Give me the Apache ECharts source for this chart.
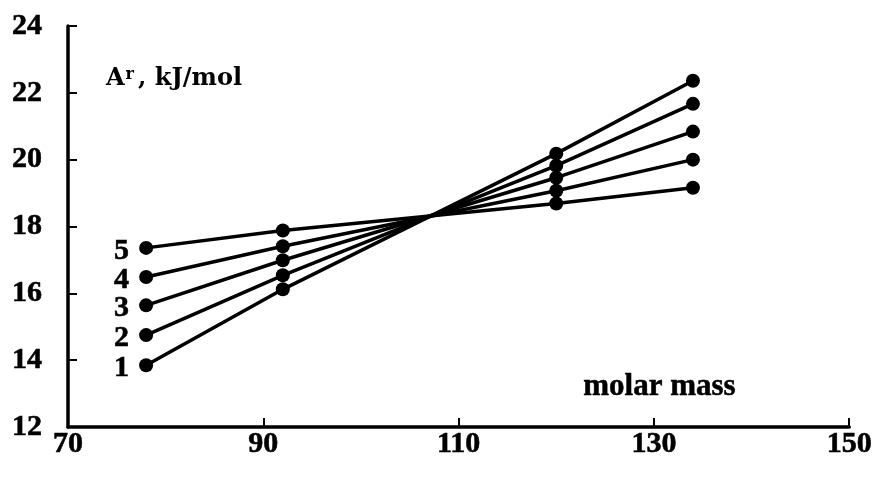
<!DOCTYPE html>
<html>
<head>
<meta charset="utf-8">
<script src="https://cdn.jsdelivr.net/npm/echarts@6/dist/echarts.min.js"></script>
<style>html,body{margin:0;padding:0;background:#fff}#c{width:875px;height:478px}</style>
</head>
<body>
<div id="c"></div>
<script>
const molarMass = [78, 92, 120, 134];
const seriesNames = ['1', '2', '3', '4', '5'];
const s1 = [13.85, 16.12, 20.18, 22.36];
const s2 = [14.75, 16.54, 19.82, 21.67];
const s3 = [15.64, 16.99, 19.46, 20.84];
const s4 = [16.49, 17.41, 19.07, 20.00];
const s5 = [17.36, 17.88, 18.69, 19.16];
const allSeries = [s1, s2, s3, s4, s5];

const serif = '"Liberation Serif", "Times New Roman", serif';
const slab = '"DejaVu Serif", serif';
const heavy = { textBorderColor: '#000', textBorderWidth: 0.6 };
const chart = echarts.init(document.getElementById('c'));
chart.setOption({
  animation: false,
  grid: { left: 68, right: 25, top: 26, bottom: 51 },
  xAxis: {
    type: 'value', min: 70, max: 150, interval: 20,
    axisLine: { lineStyle: { color: '#000', width: 3.5 } },
    axisTick: { inside: true, length: 9, lineStyle: { color: '#000', width: 2 } },
    splitLine: { show: false },
    axisLabel: Object.assign({ color: '#000', fontFamily: serif, fontWeight: 'bold', fontSize: 30, margin: 2 }, heavy)
  },
  yAxis: {
    type: 'value', min: 12, max: 24, interval: 2,
    axisLine: { show: true, lineStyle: { color: '#000', width: 3.5 } },
    axisTick: { show: true, inside: true, length: 9, lineStyle: { color: '#000', width: 2 } },
    splitLine: { show: false },
    axisLabel: Object.assign({ color: '#000', fontFamily: serif, fontWeight: 'bold', fontSize: 30, margin: 26 }, heavy)
  },
  graphic: [
    { type: 'text', left: 106, top: 67, style: {
      rich: {
        a: { fontFamily: slab, fontWeight: 'bold', fontSize: 24, fill: '#000' },
        s: { fontFamily: slab, fontWeight: 'bold', fontSize: 16, fill: '#000', verticalAlign: 'top', padding: [0, 4, 8, 1] }
      },
      text: '{a|A}{s|r}{a|, kJ/mol}'
    } },
    { type: 'text', left: 583, top: 371, style: { text: 'molar mass', fontFamily: serif, fontWeight: 'bold', fontSize: 31, fill: '#000', stroke: '#000', lineWidth: 0.5 } }
  ],
  series: allSeries.map((vals, i) => ({
    type: 'line',
    name: seriesNames[i],
    symbol: 'circle',
    symbolSize: 14,
    lineStyle: { color: '#000', width: 3.5 },
    itemStyle: { color: '#000' },
    data: vals.map((v, j) => j === 0 ? {
      value: [molarMass[j], v],
      label: Object.assign({ show: true, position: 'left', distance: 10, formatter: seriesNames[i],
        fontFamily: serif, fontWeight: 'bold', fontSize: 30, color: '#000', offset: [0, 3] }, heavy)
    } : [molarMass[j], v])
  }))
});
</script>
</body>
</html>
